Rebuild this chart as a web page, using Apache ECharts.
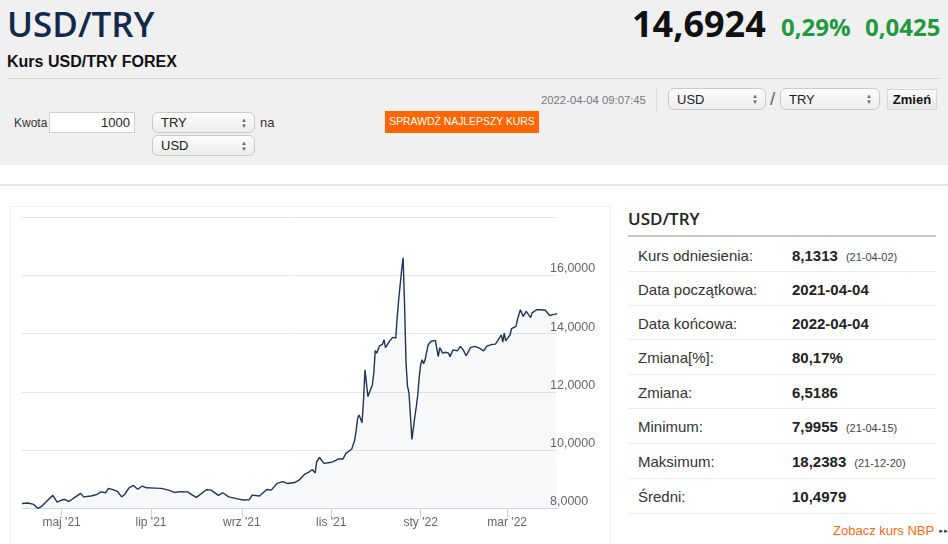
<!DOCTYPE html>
<html><head><meta charset="utf-8">
<script src="https://cdn.jsdelivr.net/npm/echarts@6/dist/echarts.min.js"></script>
<style>
*{box-sizing:border-box;margin:0;padding:0}
body{width:948px;height:544px;overflow:hidden;background:#fff;font-family:"Liberation Sans",Arial,sans-serif;color:#333;position:relative}
.abs{position:absolute;white-space:nowrap}
#hdr{position:absolute;left:0;top:0;width:948px;height:165px;background:#f0f0f0}
.sel{position:absolute;border:1px solid #c9c9c9;border-radius:6px;background:linear-gradient(#fdfdfd,#ececec);font-size:13px;color:#222;padding-left:8px;display:flex;align-items:center}
.sel .ar{position:absolute;right:7px;top:50%;transform:translateY(-50%);display:flex;flex-direction:column;font-size:6px;line-height:6px;color:#666}
.row{position:absolute;left:628px;width:308px;border-bottom:1px solid #ececec;font-size:15px}
.row .l{position:absolute;left:10px;top:50%;transform:translateY(-50%);color:#333}
.row .v{position:absolute;left:164px;top:50%;transform:translateY(-50%);font-weight:bold;color:#222}
.row .s{font-size:11px;font-weight:normal;color:#444;margin-left:8px}
</style></head>
<body>
<div id="hdr"></div>
<div class="abs" style="left:7px;top:0px;font-family:'Open Sans';font-weight:600;font-size:35px;color:#13294b;line-height:48px">USD/TRY</div>
<div class="abs" style="left:632px;top:0px;font-family:'Open Sans';font-weight:700;font-size:36px;color:#111;line-height:48px">14,6924</div>
<div class="abs" style="left:781px;top:9px;font-family:'Open Sans';font-weight:700;font-size:24px;color:#1f9a3c;line-height:36px">0,29%</div>
<div class="abs" style="left:865px;top:9px;font-family:'Open Sans';font-weight:700;font-size:24px;color:#1f9a3c;line-height:36px">0,0425</div>
<div class="abs" style="left:7px;top:52px;font-size:16px;font-weight:bold;color:#111;line-height:20px">Kurs USD/TRY FOREX</div>
<div class="abs" style="left:7px;top:78px;width:933px;height:1px;background:#d8d8d8"></div>

<div class="abs" style="left:14px;top:115px;font-size:12px;line-height:16px">Kwota</div>
<div class="abs" style="left:49px;top:112px;width:86px;height:21px;background:#fff;border:1px solid #cfcfcf;font-size:13px;text-align:right;padding-right:4px;line-height:19px;color:#222">1000</div>
<div class="sel" style="left:152px;top:112px;width:103px;height:21px">TRY<span class="ar"><span>▲</span><span>▼</span></span></div>
<div class="abs" style="left:260px;top:115px;font-size:13px;line-height:16px">na</div>
<div class="sel" style="left:152px;top:135px;width:103px;height:21px">USD<span class="ar"><span>▲</span><span>▼</span></span></div>
<div class="abs" style="left:385px;top:111px;width:154px;height:22px;background:#ff6600;color:#fff;font-size:10.4px;line-height:22px;text-align:center">SPRAWDŹ NAJLEPSZY KURS</div>
<div class="abs" style="left:541px;top:93px;font-size:11.3px;color:#777;line-height:14px">2022-04-04 09:07:45</div>
<div class="abs" style="left:656px;top:88px;width:1px;height:24px;background:#dcdcdc"></div>
<div class="sel" style="left:668px;top:88px;width:98px;height:22px">USD<span class="ar"><span>▲</span><span>▼</span></span></div>
<div class="abs" style="left:770px;top:87px;font-size:19px;color:#666;line-height:24px">/</div>
<div class="sel" style="left:780px;top:88px;width:100px;height:22px">TRY<span class="ar"><span>▲</span><span>▼</span></span></div>
<div class="abs" style="left:887px;top:89px;width:50px;height:21px;border:1px solid #d6d6d6;background:linear-gradient(#fbfbfb,#e6e6e6);font-size:13px;font-weight:bold;color:#111;text-align:center;line-height:19px">Zmień</div>

<div class="abs" style="left:0;top:184px;width:948px;height:2px;background:#e6e6e6"></div>
<div class="abs" style="left:10px;top:206px;width:601px;height:345px;border:1px solid #f0f0f0"></div>
<div id="chart" style="position:absolute;left:11px;top:207px;width:598px;height:337px"></div>

<div class="abs" style="left:628px;top:207px;font-family:'Open Sans';font-weight:600;font-size:17px;color:#222;line-height:24px">USD/TRY</div>
<div class="abs" style="left:628px;top:235px;width:308px;height:2px;background:#c8c8c8"></div>
<div class="row" style="top:238px;height:34px"><span class="l">Kurs odniesienia:</span><span class="v">8,1313<span class="s">(21-04-02)</span></span></div>
<div class="row" style="top:272px;height:34px"><span class="l">Data początkowa:</span><span class="v">2021-04-04</span></div>
<div class="row" style="top:306px;height:34px"><span class="l">Data końcowa:</span><span class="v">2022-04-04</span></div>
<div class="row" style="top:340px;height:35px"><span class="l">Zmiana[%]:</span><span class="v">80,17%</span></div>
<div class="row" style="top:375px;height:34px"><span class="l">Zmiana:</span><span class="v">6,5186</span></div>
<div class="row" style="top:409px;height:35px"><span class="l">Minimum:</span><span class="v">7,9955<span class="s">(21-04-15)</span></span></div>
<div class="row" style="top:444px;height:35px"><span class="l">Maksimum:</span><span class="v">18,2383<span class="s">(21-12-20)</span></span></div>
<div class="row" style="top:479px;height:35px"><span class="l">Średni:</span><span class="v">10,4979</span></div>
<div class="abs" style="left:833px;top:523px;font-size:13px;color:#ff6a13;line-height:16px">Zobacz kurs NBP<span style="font-size:6px;color:#333;vertical-align:2px;margin-left:4px;letter-spacing:-1px">►►</span></div>

<script>
// ---- data ----
const dates = [
'2021-04-04','2021-04-08','2021-04-12','2021-04-15','2021-04-18','2021-04-21','2021-04-25','2021-04-28',
'2021-05-01','2021-05-03','2021-05-06','2021-05-08','2021-05-10','2021-05-14','2021-05-16','2021-05-21','2021-05-25','2021-05-28','2021-05-31',
'2021-06-02','2021-06-05','2021-06-08','2021-06-11','2021-06-13','2021-06-16','2021-06-19','2021-06-22','2021-06-25','2021-06-28',
'2021-07-04','2021-07-08','2021-07-13','2021-07-17','2021-07-21','2021-07-26','2021-07-29',
'2021-08-01','2021-08-08','2021-08-11','2021-08-16','2021-08-19','2021-08-23','2021-08-29',
'2021-09-02','2021-09-06','2021-09-08','2021-09-13','2021-09-18','2021-09-21','2021-09-25','2021-09-29',
'2021-10-02','2021-10-07','2021-10-10','2021-10-14','2021-10-17','2021-10-19','2021-10-21','2021-10-22','2021-10-24','2021-10-27','2021-10-31',
'2021-11-02','2021-11-06','2021-11-09','2021-11-11','2021-11-15','2021-11-16','2021-11-17','2021-11-18','2021-11-19','2021-11-20','2021-11-22','2021-11-23','2021-11-24','2021-11-26','2021-11-29','2021-11-30',
'2021-12-01','2021-12-02','2021-12-04','2021-12-06','2021-12-07','2021-12-08','2021-12-11','2021-12-13','2021-12-15','2021-12-16','2021-12-17','2021-12-19','2021-12-20','2021-12-21','2021-12-22','2021-12-23','2021-12-24','2021-12-25','2021-12-26','2021-12-27','2021-12-28','2021-12-29','2021-12-30','2021-12-31',
'2022-01-01','2022-01-02','2022-01-03','2022-01-04','2022-01-05','2022-01-06','2022-01-08','2022-01-11','2022-01-12','2022-01-13','2022-01-14','2022-01-16','2022-01-18','2022-01-20','2022-01-21','2022-01-23','2022-01-26','2022-01-28','2022-01-30',
'2022-02-01','2022-02-04','2022-02-07','2022-02-10','2022-02-13','2022-02-15','2022-02-18','2022-02-21','2022-02-23','2022-02-25','2022-02-26','2022-02-27','2022-02-28',
'2022-03-03','2022-03-04','2022-03-07','2022-03-08','2022-03-10','2022-03-12','2022-03-14','2022-03-15','2022-03-17','2022-03-18','2022-03-21','2022-03-24','2022-03-27','2022-03-28','2022-03-30',
'2022-04-01','2022-04-03','2022-04-04'
];
const rates = [
8.17,8.19,8.14,8.00,8.10,8.26,8.45,8.22,
8.29,8.31,8.24,8.31,8.38,8.52,8.40,8.43,8.48,8.57,8.54,
8.69,8.65,8.59,8.40,8.48,8.71,8.79,8.66,8.77,8.71,
8.70,8.69,8.63,8.55,8.58,8.57,8.47,
8.38,8.65,8.63,8.45,8.54,8.40,8.33,
8.29,8.30,8.46,8.43,8.65,8.63,8.86,8.92,
8.86,8.89,8.97,9.18,9.26,9.34,9.22,9.60,9.75,9.55,9.58,
9.60,9.70,9.70,9.89,10.04,10.10,10.35,10.69,11.10,11.21,10.94,11.72,12.76,11.84,12.24,12.64,
13.42,13.33,13.58,13.64,13.79,13.52,13.76,13.87,13.85,14.59,15.16,16.19,16.60,15.00,13.00,12.20,11.97,11.20,10.37,10.75,11.15,11.50,11.90,12.50,
12.95,13.10,12.97,13.10,13.35,13.60,13.73,13.77,13.79,13.21,13.52,13.33,13.36,13.33,13.21,13.44,13.41,13.56,13.44,
13.24,13.52,13.56,13.50,13.41,13.56,13.62,13.64,13.79,13.96,13.71,14.02,13.75,
13.96,14.17,14.25,14.48,14.82,14.59,14.76,14.71,14.55,14.71,14.82,14.82,14.80,14.82,14.62,
14.65,14.67,14.69
];
const monthLabels = ['sty','lut','mar','kwi','maj','cze','lip','sie','wrz','paź','lis','gru'];
const tickMonths = [1,3,5,7,9,11];
const yTicks = [8,10,12,14,16,18];

// daily category list for the x axis
const days = [];
for (let t = Date.UTC(2021,3,4); t <= Date.UTC(2022,3,4); t += 86400000) {
  days.push(new Date(t).toISOString().slice(0,10));
}
const isTick = (i, v) => v.slice(8) === '01' && tickMonths.includes(+v.slice(5,7));

const chart = echarts.init(document.getElementById('chart'), null, {renderer:'canvas'});
chart.setOption({
  animation:false,
  grid:{left:11, top:10, width:535, height:291.5, containLabel:false},
  xAxis:{
    type:'category', data:days, boundaryGap:false,
    axisLine:{lineStyle:{color:'#ccd6eb', width:1}},
    axisTick:{show:true, length:9, interval:isTick, lineStyle:{color:'#ccd6eb'}},
    axisLabel:{interval:isTick, margin:8, color:'#666', fontSize:12, fontFamily:'Liberation Sans',
      formatter:v => monthLabels[+v.slice(5,7)-1] + " '" + v.slice(2,4)},
    splitLine:{show:false}
  },
  yAxis:{
    type:'value', position:'right', min:yTicks[0], max:yTicks[yTicks.length-1], interval:2,
    axisLine:{show:false}, axisTick:{show:false},
    splitLine:{lineStyle:{color:'#e6e6e6', width:1}},
    axisLabel:{margin:-7, color:'#666', fontSize:12.5, fontFamily:'Liberation Sans', verticalAlign:'bottom',
      showMaxLabel:false,
      formatter:v => v === 18 ? '' : v.toFixed(4).replace('.', ',')}
  },
  series:[{
    type:'line', showSymbol:false, symbol:'none',
    data:dates.map((d,i)=>[d, rates[i]]),
    lineStyle:{color:'#1d3457', width:1.4},
    areaStyle:{color:'rgba(30,50,90,0.05)'}
  }]
});
</script>
</body></html>
